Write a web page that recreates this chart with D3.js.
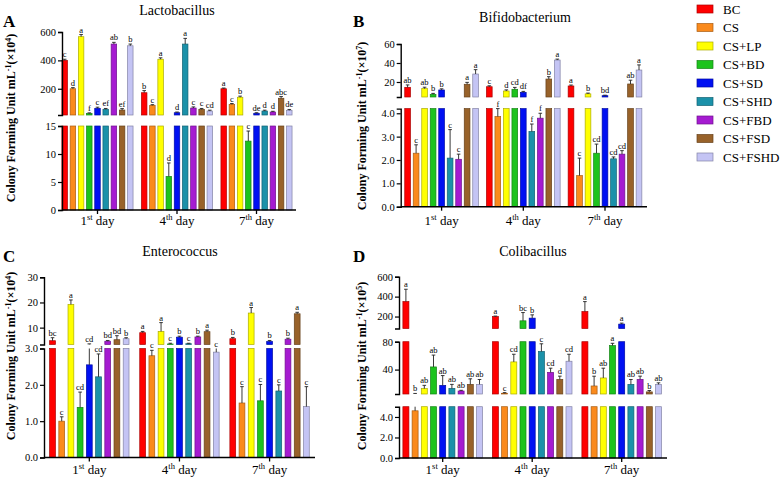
<!DOCTYPE html>
<html><head><meta charset="utf-8">
<script src="https://cdn.jsdelivr.net/npm/d3@7"></script>
<style>body{margin:0;background:#fff} svg{display:block} text{font-family:"Liberation Serif","Times New Roman",serif;fill:#000}</style>
</head><body><svg id="c" width="783" height="483"></svg>
<script>
// ---------- data ----------
const days = ["1st","4th","7th"];
const dayNum = ["1","4","7"];
const daySup = ["st","th","th"];
const groups = ["BC","CS","CS+LP","CS+BD","CS+SD","CS+SHD","CS+FBD","CS+FSD","CS+FSHD"];
const colors = ["#ff0000","#fa8a1c","#ffff00","#1dc31d","#0010f2","#1b91a9","#a51bd1","#98622a","#c4c4f4"];

// A Lactobacillus (x10^4)
const lactoMean = [[400,200,567,25,62,55,515,50,503],[172,83,408,6,31,515,64,55,43],[200,90,140,12.3,27,43,36,133,48]];
const lactoErr  = [[8,8,15,5,8,6,12,10,12],[15,5,10,2.4,5,40,8,6,6],[5,6,8,1.8,4,6,5,12,6]];
const lactoLetters = [["c","d","a","f","c","ef","ab","ef","b"],["b","c","a","d","d","a","c","c","cd"],["a","c","b","c","de","d","d","abc","de"]];
const lactoBreaks = [[0,15],[15,600]];
const lactoTicks = [[0,5,10,15],[200,400,600]];

// B Bifidobacterium (x10^7)
const bifMean = [[14.4,2.29,13,7,11.6,2.08,2.03,17.6,28.4],[15,3.86,10.5,12.3,9.1,3.22,3.79,23.1,43.1],[15.8,1.33,7.5,2.29,5.6,2.05,2.25,17.9,32.6]];
const bifErr  = [[2.5,0.36,1.5,1,1.2,1.22,0.22,2,4.6],[1,0.34,1.2,2,1,0.32,0.21,2.5,1],[1,0.75,0.8,0.39,0.5,0.08,0.15,4,5.4]];
const bifLetters = [["ab","c","ab","b","b","c","c","a","a"],["c","f","d","cd","df","f","f","b","a"],["a","c","b","cd","bd","cd","cd","ab","a"]];
const bifBreaks = [[0,4.2],[4.2,60]];
const bifTicks = [[0,1,2,3,4],[20,40,60]];

// C Enterococcus (x10^4)
const entMean = [[4.8,1.0,19.2,1.38,2.55,2.22,4.6,5.2,5.6],[8,2.8,8.5,3.5,6.2,3.6,6.3,8.4,2.9],[5.6,1.5,15.8,1.56,4.5,1.83,5.4,15.5,1.4]];
const entErr  = [[1.2,0.12,1.8,0.42,1.0,0.63,0.3,1.6,0.4],[0.5,0.15,3.5,0.3,0.4,0.2,0.3,0.6,0.12],[0.5,0.45,2.2,0.45,0.4,0.17,0.4,0.6,0.55]];
const entLetters = [["bc","c","a","cd","cd","cd","bd","bd","b"],["a","c","a","c","b","c","b","a","c"],["b","c","a","c","b","c","b","a","c"]];
const entBreaks = [[0,3],[3.3,30]];
const entTicks = [[0,1,2,3],[10,20,30]];

// D Colibacillus (x10^5)
const coliMean = [[350,4.6,12.7,43.8,17.4,13,9.3,18.8,18.8],[200,6,51,157,184,66,36,26,52],[250,16.5,28,74.4,124,18.8,26,8,18.8]];
const coliErr  = [[124,1.2,4.7,17,14,5.8,1,8,7],[5,1,11,83,33,11,6,4.6,10],[100,14,14,3.3,10,7,4.6,2,2.2]];
const coliLetters = [["a","b","ab","ab","ab","ab","ab","ab","ab"],["a","c","cd","bc","b","c","cd","d","cd"],["a","b","ab","a","a","ab","ab","b","ab"]];
const coliBreaks = [[0,5],[5,80],[80,600]];
const coliTicks = [[0,2,4],[40,80],[200,400,600]];

// ---------- layout ----------
const panels = [
  {letter:"A", title:"Lactobacillus", exp:"4", mean:lactoMean, err:lactoErr, letters:lactoLetters, breaks:lactoBreaks, ticks:lactoTicks,
   L:{x0:57.75,x1:296.25,axisX:62,axisEnd:296,ranges:[[210,126],[115,32]],step:8.2,bw:5.5,titleX:177,titleY:15,letterX:3,letterY:27,ylabX:15,ylabY:118,xlabY:225}},
  {letter:"B", title:"Bifidobacterium", exp:"7", mean:bifMean, err:bifErr, letters:bifLetters, breaks:bifBreaks, ticks:bifTicks,
   L:{x0:400.75,x1:645.85,axisX:400.7,axisEnd:647,ranges:[[206.7,108.6],[97,44]],step:8.5,bw:5.7,titleX:525,titleY:22,letterX:353,letterY:27,ylabX:366,ylabY:126,xlabY:225}},
  {letter:"C", title:"Enterococcus", exp:"4", mean:entMean, err:entErr, letters:entLetters, breaks:entBreaks, ticks:entTicks,
   L:{x0:44.25,x1:314.65,axisX:44,axisEnd:315,ranges:[[457.5,348.5],[344.5,277.3]],step:9.2,bw:5.8,titleX:180,titleY:256,letterX:3,letterY:262,ylabX:15,ylabY:356,xlabY:474}},
  {letter:"D", title:"Colibacillus", exp:"5", mean:coliMean, err:coliErr, letters:coliLetters, breaks:coliBreaks, ticks:coliTicks,
   L:{x0:397.95,x1:666.45,axisX:399,axisEnd:667,ranges:[[458,406.7],[394,341.7],[328.5,276.7]],step:9.2,bw:6,titleX:533,titleY:256,letterX:353,letterY:262,ylabX:366,ylabY:366,xlabY:474}}
];

const svg = d3.select("#c");
const color = d3.scaleOrdinal().domain(groups).range(colors);

panels.forEach(drawPanel);

function drawPanel(p){
  const L = p.L;
  const g = svg.append("g");
  const x0 = d3.scaleBand().domain(days).range([L.x0, L.x1]).padding(0);
  const span = L.step*groups.length;
  const pad = 1 - L.bw/L.step;
  const x1 = d3.scaleBand().domain(groups).range([-span/2, span/2]).paddingInner(pad).paddingOuter(pad/2);
  const segs = p.breaks.map((dom,i)=>({dom, y:d3.scaleLinear().domain(dom).range(L.ranges[i]), ticks:p.ticks[i]}));

  const recs = days.flatMap((d,di)=>groups.map((gr,gi)=>({
    d, gr, m:p.mean[di][gi], e:p.err[di][gi], lab:p.letters[di][gi],
    x: x0(d) + x0.bandwidth()/2 + x1(gr)
  })));
  const bw = x1.bandwidth();

  segs.forEach((s,si)=>{
    const sg = g.append("g");
    // bars
    sg.selectAll("rect").data(recs.filter(r=>r.m > s.dom[0])).join("rect")
      .attr("x", r=>r.x).attr("width", bw)
      .attr("y", r=>s.y(Math.min(r.m, s.dom[1])))
      .attr("height", r=>s.y(s.dom[0]) - s.y(Math.min(r.m, s.dom[1])))
      .attr("fill", r=>color(r.gr))
      .attr("stroke", r=>d3.color(color(r.gr)).darker(1.1))
      .attr("stroke-width", 0.7);
    // error lines
    const errRecs = recs.filter(r=> r.m + r.e > s.dom[0] && r.m < s.dom[1]);
    sg.selectAll("line.err").data(errRecs).join("line").attr("class","err")
      .attr("x1", r=>r.x+bw/2).attr("x2", r=>r.x+bw/2)
      .attr("y1", r=>s.y(Math.max(r.m, s.dom[0])))
      .attr("y2", r=>s.y(Math.min(r.m+r.e, s.dom[1])))
      .attr("stroke","#222").attr("stroke-width",0.9);
    sg.selectAll("line.cap").data(errRecs.filter(r=>r.m+r.e <= s.dom[1])).join("line").attr("class","cap")
      .attr("x1", r=>r.x+bw/2-1.8).attr("x2", r=>r.x+bw/2+1.8)
      .attr("y1", r=>s.y(r.m+r.e)).attr("y2", r=>s.y(r.m+r.e))
      .attr("stroke","#222").attr("stroke-width",0.9);
    // y axis segment
    const ax = g.append("g").attr("transform",`translate(${L.axisX},0)`)
      .call(d3.axisLeft(s.y).tickValues(s.ticks).tickSize(4).tickSizeOuter(4).tickPadding(2));
    ax.select(".domain").attr("stroke","#000").attr("stroke-width",1.4);
    ax.selectAll(".tick line").attr("stroke","#000").attr("stroke-width",1.2);
    ax.selectAll("text").attr("font-family","'Liberation Serif',serif").attr("font-size",10.5).attr("fill","#000");
  });

  // significance letters
  recs.forEach(r=>{
    const top = r.m + r.e;
    let s = segs.find(s=>top >= s.dom[0] && top <= s.dom[1]);
    let v = top;
    if(!s){ s = segs.filter(s=>s.dom[0] < top).pop(); v = s.dom[1]; }
    g.append("text").attr("x", r.x+bw/2).attr("y", s.y(v)-2)
      .attr("text-anchor","middle").attr("font-size",8.5).text(r.lab);
  });

  // x axis
  const xa = g.append("g").attr("transform",`translate(0,${L.ranges[0][0]})`)
    .call(d3.axisBottom(x0).tickSize(4).tickFormat(""));
  xa.select(".domain").remove();
  xa.selectAll(".tick line").attr("stroke","#000").attr("stroke-width",1.3);
  g.append("line").attr("x1",L.axisX).attr("x2",L.axisEnd).attr("y1",L.ranges[0][0]).attr("y2",L.ranges[0][0])
    .attr("stroke","#000").attr("stroke-width",1.5);
  days.forEach((d,i)=>{
    const t = g.append("text").attr("x", x0(d)+x0.bandwidth()/2).attr("y", L.xlabY)
      .attr("text-anchor","middle").attr("font-size",13);
    t.append("tspan").text(dayNum[i]);
    t.append("tspan").attr("baseline-shift","super").attr("font-size",8.5).text(daySup[i]);
    t.append("tspan").text(" day");
  });

  // title & panel letter
  g.append("text").attr("x",L.titleX).attr("y",L.titleY).attr("text-anchor","middle").attr("font-size",14).text(p.title);
  g.append("text").attr("x",L.letterX).attr("y",L.letterY).attr("font-size",17).attr("font-weight","bold").text(p.letter);

  // y label
  const yl = g.append("text").attr("transform",`translate(${L.ylabX},${L.ylabY}) rotate(-90)`)
    .attr("text-anchor","middle").attr("font-size",12).attr("font-weight","bold");
  yl.append("tspan").text("Colony Forming Unit mL");
  yl.append("tspan").attr("baseline-shift","super").attr("font-size",8).text("-1");
  yl.append("tspan").text("(×10");
  yl.append("tspan").attr("baseline-shift","super").attr("font-size",8).text(p.exp);
  yl.append("tspan").text(")");
}

// legend
const leg = svg.append("g").selectAll("g").data(groups).join("g")
  .attr("transform",(d,i)=>`translate(697,${9 + i*18.5})`);
leg.append("rect").attr("x",0).attr("y",-4).attr("width",16).attr("height",8)
  .attr("fill",d=>color(d)).attr("stroke",d=>d3.color(color(d)).darker(1.1)).attr("stroke-width",0.7);
leg.append("text").attr("x",26).attr("y",4.5).attr("font-size",13).text(d=>d);
</script>
</body></html>
